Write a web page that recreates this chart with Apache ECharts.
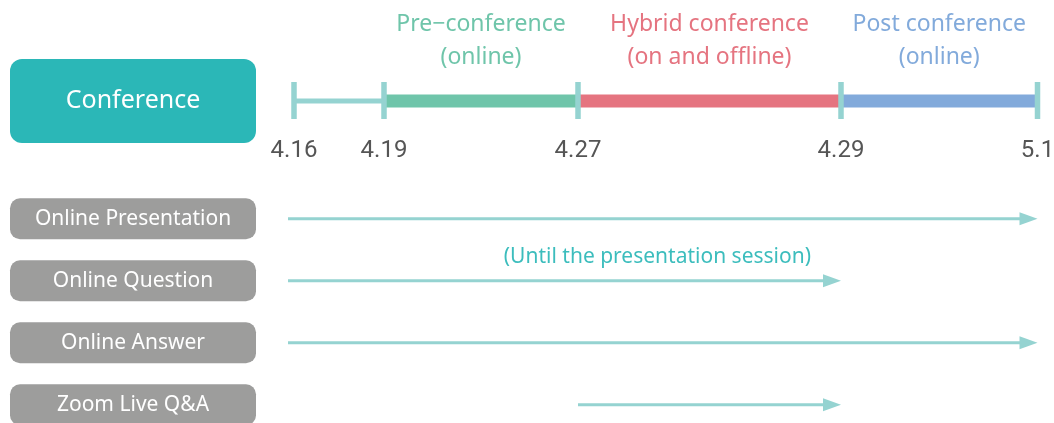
<!DOCTYPE html>
<html>
<head>
<meta charset="utf-8">
<script src="https://cdn.jsdelivr.net/npm/echarts@6/dist/echarts.min.js"></script>
<style>
html,body{margin:0;padding:0;background:#fff;}
#main{width:1054px;height:423px;}
</style>
</head>
<body>
<div id="main"></div>
<script>
// ---- data ----
const dateLabels = ['4.16', '4.19', '4.27', '4.29', '5.1'];
// schematic (not to scale) position of each date along the timeline
const datePos = [0, 90, 284, 547, 743.5];

const phaseNames = ['Pre\u2212conference\n(online)', 'Hybrid conference\n(on and offline)', 'Post conference\n(online)'];
const phaseStart = [1, 2, 3];   // index into dateLabels
const phaseEnd = [2, 3, 4];

const rowNames = ['Conference', 'Online Presentation', 'Online Question', 'Online Answer', 'Zoom Live Q&A'];
const rowLevel = [0, 1.9, 2.9, 3.9, 4.9];

const activityNames = ['Online Presentation', 'Online Question', 'Online Answer', 'Zoom Live Q&A'];
const activityStart = [0, 0, 0, 2];  // index into dateLabels
const activityEnd = [4, 3, 4, 3];
const activityNote = ['', '(Until the presentation session)', '', ''];

// ---- styles ----
const phaseColors = ['#6fc5aa', '#e57480', '#82aadb'];
const tealLight = '#95d3d1';
const FONT = "'Noto Sans', sans-serif";

const chart = echarts.init(document.getElementById('main'));

const segData = [[0, 1, -1]].concat(phaseStart.map((s, i) => [s, phaseEnd[i], i]));
const tickData = datePos.map((p) => [p, 0]);
const actData = activityNames.map((n, i) => [activityStart[i], activityEnd[i], rowLevel[i + 1], i]);

chart.setOption({
  animation: false,
  grid: { left: 294, right: 16.5, top: 101, height: 310, containLabel: false, outerBoundsMode: 'none' },
  xAxis: {
    type: 'value', min: 0, max: 743.5, position: 'top', offset: -50,
    axisLine: { show: false }, axisTick: { show: false }, splitLine: { show: false },
    axisLabel: {
      customValues: datePos, margin: 0, verticalAlign: 'middle',
      color: '#555', fontSize: 24, fontFamily: 'Roboto',
      formatter: (v) => { const i = datePos.findIndex(p => Math.abs(p - v) < 1e-6); return i >= 0 ? dateLabels[i] : ''; }
    }
  },
  yAxis: {
    type: 'value', min: 0, max: 5, inverse: true,
    axisLine: { show: false }, axisTick: { show: false }, splitLine: { show: false },
    axisLabel: {
      customValues: rowLevel, margin: 38,
      formatter: (v) => {
        const i = rowLevel.findIndex(p => Math.abs(p - v) < 1e-6);
        if (i < 0) return '';
        return (i === 0 ? '{conf|' : '{act|') + rowNames[i] + '}';
      },
      rich: {
        conf: { width: 246, height: 84, lineHeight: 84, backgroundColor: '#2bb7b7', borderRadius: 12,
                color: '#fff', fontSize: 25, fontFamily: FONT, align: 'center' },
        act: { width: 246, height: 41, lineHeight: 41, backgroundColor: '#9d9d9c', borderRadius: 10,
               color: '#fff', fontSize: 21, fontFamily: FONT, align: 'center' }
      }
    }
  },
  series: [
    {
      type: 'custom', z: 2, data: segData,
      renderItem: (params, api) => {
        const s = api.value(0), e = api.value(1), k = api.value(2);
        const a = api.coord([datePos[s], 0]);
        const b = api.coord([datePos[e], 0]);
        const h = k < 0 ? 5 : 13;
        const children = [{
          type: 'rect',
          shape: { x: a[0], y: a[1] - h / 2, width: b[0] - a[0], height: h },
          style: { fill: k < 0 ? tealLight : phaseColors[k] }
        }];
        if (k >= 0) {
          children.push({
            type: 'text',
            style: {
              text: phaseNames[k], x: (a[0] + b[0]) / 2, y: a[1] - 60.5,
              align: 'center', verticalAlign: 'middle',
              fill: phaseColors[k], fontSize: 23, fontFamily: FONT, lineHeight: 33
            }
          });
        }
        return { type: 'group', children };
      }
    },
    {
      type: 'custom', z: 3, data: tickData,
      renderItem: (params, api) => {
        const p = api.coord([api.value(0), api.value(1)]);
        return { type: 'rect', shape: { x: p[0] - 2.75, y: p[1] - 19, width: 5.5, height: 37 }, style: { fill: tealLight } };
      }
    },
    {
      type: 'custom', z: 2, data: actData,
      renderItem: (params, api) => {
        const s = api.value(0), e = api.value(1), lv = api.value(2), i = api.value(3);
        const a = api.coord([datePos[s], lv]);
        const b = api.coord([datePos[e], lv]);
        const x0 = a[0] - (s === 0 ? 6 : 0);
        const tip = b[0], headLen = 18, headHalf = 6.5;
        const children = [
          { type: 'rect', shape: { x: x0, y: a[1] - 1.5, width: tip - headLen + 1 - x0, height: 3 }, style: { fill: tealLight } },
          { type: 'polygon', shape: { points: [[tip, a[1]], [tip - headLen, a[1] - headHalf], [tip - headLen, a[1] + headHalf]] }, style: { fill: tealLight } }
        ];
        if (activityNote[i]) {
          children.push({
            type: 'text',
            style: { text: activityNote[i], x: b[0] - 30, y: a[1] - 24, align: 'right', verticalAlign: 'middle',
                     fill: '#3cbdbd', fontSize: 21, fontFamily: FONT }
          });
        }
        return { type: 'group', children };
      }
    }
  ]
});
</script>
</body>
</html>
